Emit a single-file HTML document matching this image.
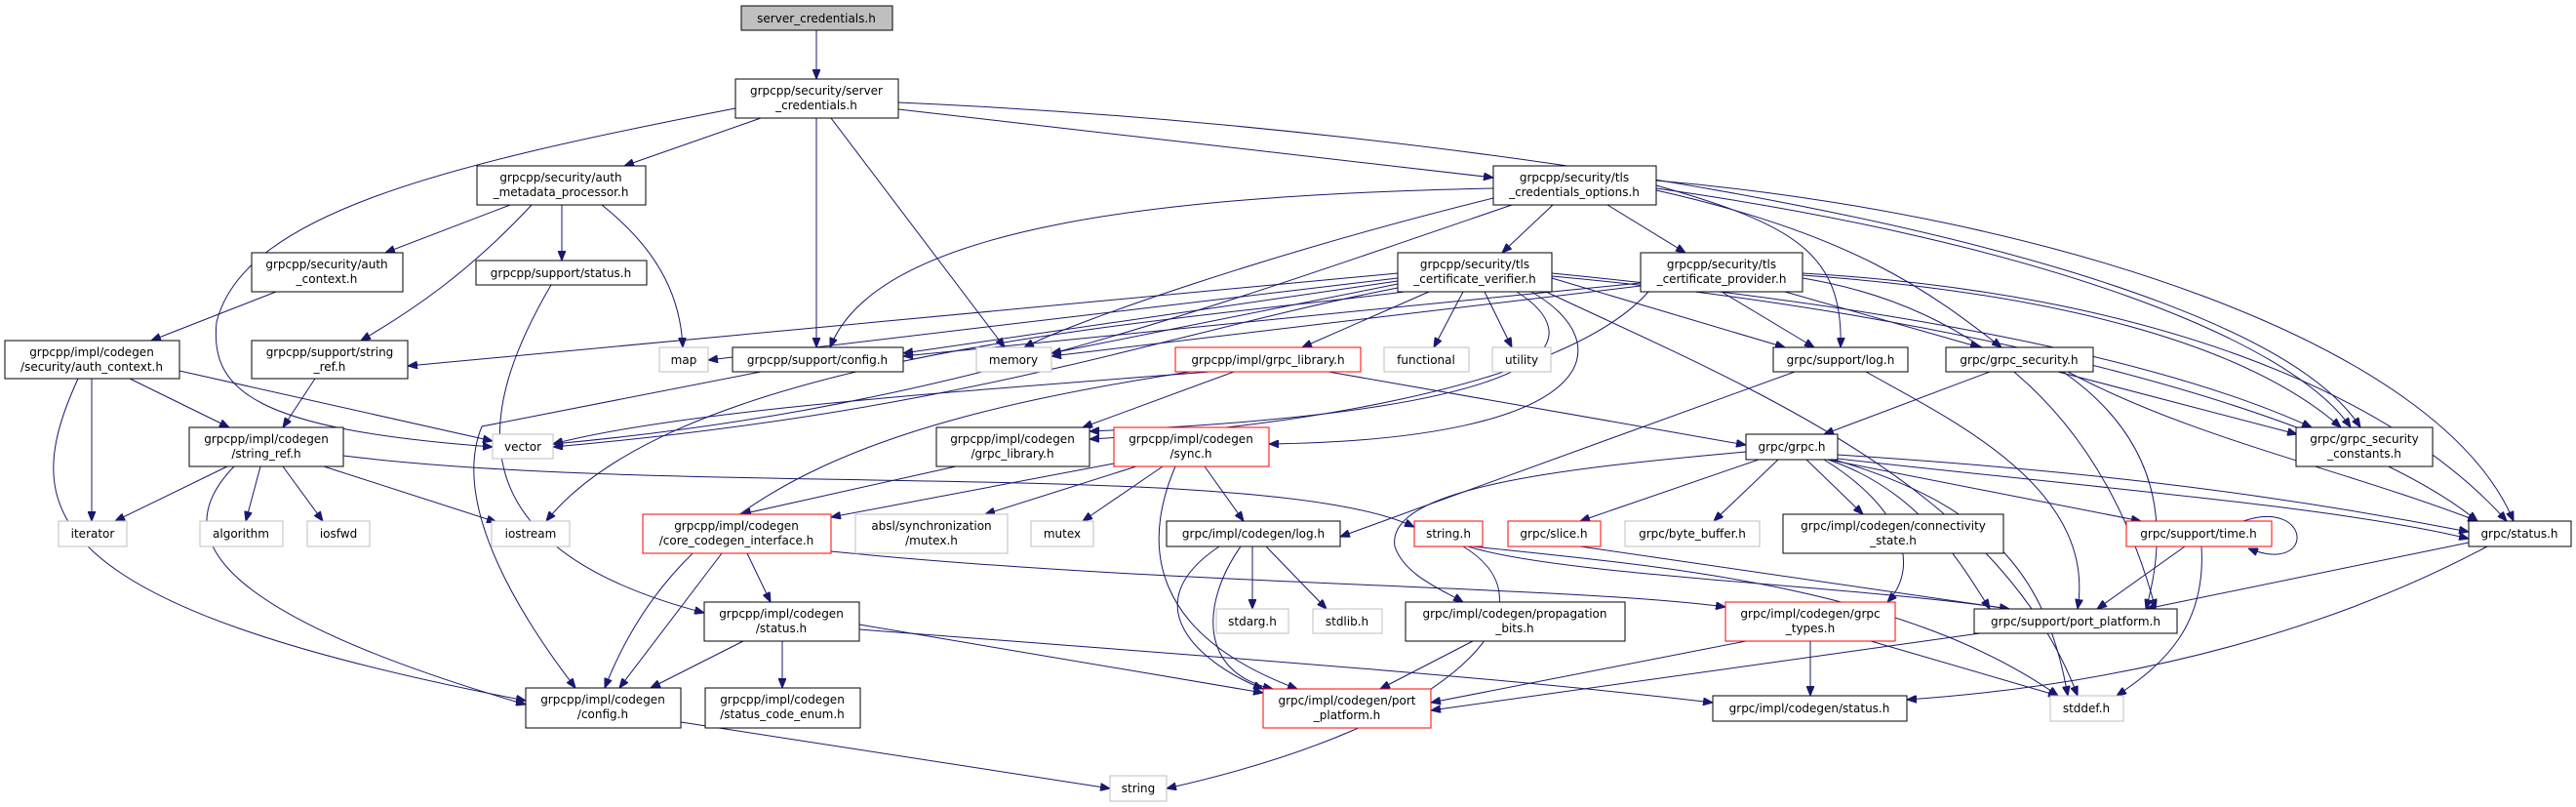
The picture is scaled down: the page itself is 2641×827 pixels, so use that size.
<!DOCTYPE html>
<html><head><meta charset="utf-8">
<style>
html,body{margin:0;padding:0;background:#fff;}
svg{display:block;}
text{font-family:"DejaVu Sans","Liberation Sans",sans-serif;font-size:12px;fill:#000;text-anchor:middle;}
.n{fill:#fff;stroke:#000;stroke-width:1;}
.r{fill:#fff;stroke:#ff0000;stroke-width:1;}
.x{fill:#fff;stroke:#bfbfbf;stroke-width:1;}
.root{fill:#bfbfbf;stroke:#000;stroke-width:1;}
path{fill:none;stroke:#191970;stroke-width:1;}
</style></head><body>
<svg width="2641" height="827" viewBox="0 0 2641 827" xmlns="http://www.w3.org/2000/svg">
<defs>
<marker id="a" markerWidth="10" markerHeight="8" refX="10" refY="4" orient="auto" markerUnits="userSpaceOnUse">
<path d="M0,0 L10,4 L0,8 Z" style="fill:#191970;stroke:#191970"/>
</marker>
</defs>
<g marker-end="url(#a)">
<path d="M837,31 L837,81"/>
<path d="M780,121 L640,170"/>
<path d="M754,111 C450,170 250,220 222,330 C215,400 260,440 505,458"/>
<path d="M837,121 L837,356"/>
<path d="M852,121 L1030,356"/>
<path d="M921,112 L1531,182"/>
<path d="M921,105 C1500,130 2300,250 2420,438"/>
<path d="M523,210 L395,259"/>
<path d="M545,210 C480,280 420,320 370,349"/>
<path d="M576,210 L576,267"/>
<path d="M617,210 C680,260 698,310 700,356"/>
<path d="M283,299 L155,349"/>
<path d="M565,292 C490,420 460,560 722,628"/>
<path d="M780,381 L494,437 C460,520 540,640 590,705"/>
<path d="M94,388 L94,534"/>
<path d="M133,388 L235,438"/>
<path d="M184,380 L505,452"/>
<path d="M80,388 C20,520 30,620 539,718"/>
<path d="M323,388 L290,438"/>
<path d="M233,478 L118,534"/>
<path d="M267,478 L252,534"/>
<path d="M290,478 L331,534"/>
<path d="M332,478 L509,535"/>
<path d="M240,478 C180,540 190,620 539,722"/>
<path d="M352,467 C700,510 1300,470 1450,540"/>
<path d="M1531,193 C1200,200 900,230 851,356"/>
<path d="M1531,203 C1300,260 1100,330 1050,356"/>
<path d="M1550,210 C1200,330 950,420 567,455"/>
<path d="M1592,210 L1540,259"/>
<path d="M1648,210 L1728,259"/>
<path d="M1698,190 C1840,230 1890,260 1887,356"/>
<path d="M1698,195 C1900,240 1980,300 2052,356"/>
<path d="M1698,193 C2100,250 2350,350 2410,438"/>
<path d="M1698,185 C2100,220 2500,350 2577,534"/>
<path d="M1433,280 L418,375"/>
<path d="M1433,285 L726,369"/>
<path d="M1433,288 L926,362"/>
<path d="M1433,291 L1078,362"/>
<path d="M1433,295 C1200,340 1000,420 567,458"/>
<path d="M1440,299 C1200,330 700,360 560,534"/>
<path d="M1465,299 L1335,356"/>
<path d="M1500,299 L1470,356"/>
<path d="M1522,299 L1550,356"/>
<path d="M1555,299 C1620,340 1640,420 1117,442"/>
<path d="M1570,299 C1660,350 1650,450 1301,455"/>
<path d="M1591,285 L1830,356"/>
<path d="M1591,280 C1900,310 2200,360 2370,438"/>
<path d="M1591,283 C2000,320 2400,420 2540,534"/>
<path d="M1585,299 C1800,400 2050,500 2130,713"/>
<path d="M1682,290 L926,365"/>
<path d="M1682,293 L1078,365"/>
<path d="M1690,299 C1600,400 1300,440 1117,450"/>
<path d="M1765,299 L1860,356"/>
<path d="M1830,299 L2030,356"/>
<path d="M1848,282 C2100,300 2300,350 2400,438"/>
<path d="M1848,280 C2200,300 2450,400 2570,534"/>
<path d="M1848,285 C2000,310 2150,400 2210,624"/>
<path d="M1240,381 C1000,400 700,420 567,455"/>
<path d="M1265,381 L1110,438"/>
<path d="M1362,381 L1790,456"/>
<path d="M1220,381 C900,430 700,500 620,705"/>
<path d="M980,478 L760,527"/>
<path d="M1142,475 L852,530"/>
<path d="M1165,478 L1010,527"/>
<path d="M1192,478 L1110,534"/>
<path d="M1235,478 L1275,534"/>
<path d="M1205,478 C1170,560 1180,650 1330,706"/>
<path d="M740,567 L635,705"/>
<path d="M766,567 L790,617"/>
<path d="M852,565 C1200,600 1600,600 1769,622"/>
<path d="M762,657 L667,705"/>
<path d="M802,657 L802,705"/>
<path d="M881,640 L1295,710"/>
<path d="M881,645 C1200,670 1500,690 1756,720"/>
<path d="M1284,560 L1284,624"/>
<path d="M1298,560 L1360,624"/>
<path d="M1272,560 C1230,620 1230,690 1305,706"/>
<path d="M1250,560 C1160,620 1230,680 1295,706"/>
<path d="M1840,381 L1374,550"/>
<path d="M1913,381 C2000,430 2150,500 2130,624"/>
<path d="M2040,381 L1870,445"/>
<path d="M2110,381 L2355,445"/>
<path d="M2120,381 C2250,450 2400,480 2540,534"/>
<path d="M2115,381 C2200,440 2230,520 2200,624"/>
<path d="M1790,463 C1600,480 1420,500 1430,560 C1440,590 1480,605 1500,617"/>
<path d="M1803,471 L1620,534"/>
<path d="M1823,471 L1757,534"/>
<path d="M1852,471 L1910,527"/>
<path d="M1874,471 L2195,534"/>
<path d="M1870,471 C1950,520 1970,580 1935,617"/>
<path d="M1874,471 C1960,500 2000,560 2040,624"/>
<path d="M1884,466 C2100,480 2300,500 2531,545"/>
<path d="M1884,470 C2150,500 2400,520 2531,552"/>
<path d="M1880,471 C2050,520 2100,600 2120,713"/>
<path d="M1505,560 C1600,590 1900,600 2060,624"/>
<path d="M1510,560 C1700,580 1950,600 2110,713"/>
<path d="M1500,560 C1600,620 1500,740 1196,808"/>
<path d="M1620,560 L2060,624"/>
<path d="M2300,534 C2370,510 2375,590 2305,562"/>
<path d="M2240,560 L2150,624"/>
<path d="M2257,560 C2262,640 2220,680 2170,713"/>
<path d="M2531,556 L2200,624"/>
<path d="M2550,560 C2400,640 2200,700 1955,717"/>
<path d="M1790,657 L1467,720"/>
<path d="M1856,657 L1856,713"/>
<path d="M1918,657 L2110,713"/>
<path d="M2030,649 L1467,728"/>
<path d="M1510,657 L1415,706"/>
<path d="M698,740 L1138,808"/>
</g>

<!-- nodes -->
<rect class="root" x="760" y="6" width="155" height="25"/><text x="837" y="23">server_credentials.h</text>
<rect class="n" x="754" y="81" width="167" height="40"/><text x="837" y="97">grpcpp/security/server</text><text x="837" y="112">_credentials.h</text>
<rect class="n" x="489" y="170" width="173" height="40"/><text x="575" y="186">grpcpp/security/auth</text><text x="575" y="201">_metadata_processor.h</text>
<rect class="n" x="1531" y="170" width="167" height="40"/><text x="1614" y="186">grpcpp/security/tls</text><text x="1614" y="201">_credentials_options.h</text>
<rect class="n" x="258" y="259" width="155" height="40"/><text x="335" y="275">grpcpp/security/auth</text><text x="335" y="290">_context.h</text>
<rect class="n" x="488" y="267" width="175" height="25"/><text x="575" y="284">grpcpp/support/status.h</text>
<rect class="n" x="1433" y="259" width="158" height="40"/><text x="1512" y="275">grpcpp/security/tls</text><text x="1512" y="290">_certificate_verifier.h</text>
<rect class="n" x="1682" y="259" width="166" height="40"/><text x="1765" y="275">grpcpp/security/tls</text><text x="1765" y="290">_certificate_provider.h</text>
<rect class="n" x="5" y="349" width="179" height="39"/><text x="94" y="365">grpcpp/impl/codegen</text><text x="94" y="380">/security/auth_context.h</text>
<rect class="n" x="258" y="349" width="160" height="39"/><text x="338" y="365">grpcpp/support/string</text><text x="338" y="380">_ref.h</text>
<rect class="x" x="676" y="356" width="50" height="25"/><text x="701" y="373">map</text>
<rect class="n" x="751" y="356" width="175" height="25"/><text x="838" y="373">grpcpp/support/config.h</text>
<rect class="x" x="1001" y="356" width="77" height="25"/><text x="1039" y="373">memory</text>
<rect class="r" x="1205" y="356" width="190" height="25"/><text x="1300" y="373">grpcpp/impl/grpc_library.h</text>
<rect class="x" x="1419" y="356" width="87" height="25"/><text x="1462" y="373">functional</text>
<rect class="x" x="1530" y="356" width="60" height="25"/><text x="1560" y="373">utility</text>
<rect class="n" x="1818" y="356" width="138" height="25"/><text x="1887" y="373">grpc/support/log.h</text>
<rect class="n" x="1995" y="356" width="151" height="25"/><text x="2070" y="373">grpc/grpc_security.h</text>
<rect class="n" x="194" y="438" width="158" height="40"/><text x="273" y="454">grpcpp/impl/codegen</text><text x="273" y="469">/string_ref.h</text>
<rect class="x" x="505" y="445" width="62" height="25"/><text x="536" y="462">vector</text>
<rect class="n" x="960" y="438" width="157" height="40"/><text x="1038" y="454">grpcpp/impl/codegen</text><text x="1038" y="469">/grpc_library.h</text>
<rect class="r" x="1142" y="438" width="159" height="40"/><text x="1221" y="454">grpcpp/impl/codegen</text><text x="1221" y="469">/sync.h</text>
<rect class="n" x="1790" y="445" width="94" height="26"/><text x="1837" y="462">grpc/grpc.h</text>
<rect class="n" x="2354" y="438" width="140" height="40"/><text x="2424" y="454">grpc/grpc_security</text><text x="2424" y="469">_constants.h</text>
<rect class="x" x="60" y="534" width="70" height="26"/><text x="95" y="551">iterator</text>
<rect class="x" x="205" y="534" width="85" height="26"/><text x="247" y="551">algorithm</text>
<rect class="x" x="315" y="534" width="64" height="26"/><text x="347" y="551">iosfwd</text>
<rect class="x" x="504" y="534" width="80" height="26"/><text x="544" y="551">iostream</text>
<rect class="r" x="659" y="527" width="193" height="40"/><text x="755" y="543">grpcpp/impl/codegen</text><text x="755" y="558">/core_codegen_interface.h</text>
<rect class="x" x="877" y="527" width="156" height="40"/><text x="955" y="543">absl/synchronization</text><text x="955" y="558">/mutex.h</text>
<rect class="x" x="1057" y="534" width="64" height="26"/><text x="1089" y="551">mutex</text>
<rect class="n" x="1196" y="534" width="178" height="26"/><text x="1285" y="551">grpc/impl/codegen/log.h</text>
<rect class="r" x="1450" y="534" width="70" height="26"/><text x="1485" y="551">string.h</text>
<rect class="r" x="1546" y="534" width="95" height="26"/><text x="1593" y="551">grpc/slice.h</text>
<rect class="x" x="1666" y="534" width="138" height="26"/><text x="1735" y="551">grpc/byte_buffer.h</text>
<rect class="n" x="1828" y="527" width="226" height="40"/><text x="1941" y="543">grpc/impl/codegen/connectivity</text><text x="1941" y="558">_state.h</text>
<rect class="r" x="2180" y="534" width="149" height="26"/><text x="2254" y="551">grpc/support/time.h</text>
<rect class="n" x="2531" y="534" width="105" height="26"/><text x="2583" y="551">grpc/status.h</text>
<rect class="n" x="722" y="617" width="159" height="40"/><text x="801" y="633">grpcpp/impl/codegen</text><text x="801" y="648">/status.h</text>
<rect class="x" x="1247" y="624" width="74" height="25"/><text x="1284" y="641">stdarg.h</text>
<rect class="x" x="1346" y="624" width="71" height="25"/><text x="1381" y="641">stdlib.h</text>
<rect class="n" x="1441" y="617" width="225" height="40"/><text x="1553" y="633">grpc/impl/codegen/propagation</text><text x="1553" y="648">_bits.h</text>
<rect class="r" x="1769" y="617" width="174" height="40"/><text x="1856" y="633">grpc/impl/codegen/grpc</text><text x="1856" y="648">_types.h</text>
<rect class="n" x="2024" y="624" width="208" height="25"/><text x="2128" y="641">grpc/support/port_platform.h</text>
<rect class="n" x="539" y="705" width="159" height="41"/><text x="618" y="721">grpcpp/impl/codegen</text><text x="618" y="736">/config.h</text>
<rect class="n" x="723" y="705" width="159" height="41"/><text x="802" y="721">grpcpp/impl/codegen</text><text x="802" y="736">/status_code_enum.h</text>
<rect class="r" x="1295" y="706" width="172" height="40"/><text x="1381" y="722">grpc/impl/codegen/port</text><text x="1381" y="737">_platform.h</text>
<rect class="n" x="1756" y="713" width="199" height="26"/><text x="1855" y="730">grpc/impl/codegen/status.h</text>
<rect class="x" x="2102" y="713" width="75" height="26"/><text x="2139" y="730">stddef.h</text>
<rect class="x" x="1138" y="795" width="58" height="26"/><text x="1167" y="812">string</text>
</svg>
</body></html>
